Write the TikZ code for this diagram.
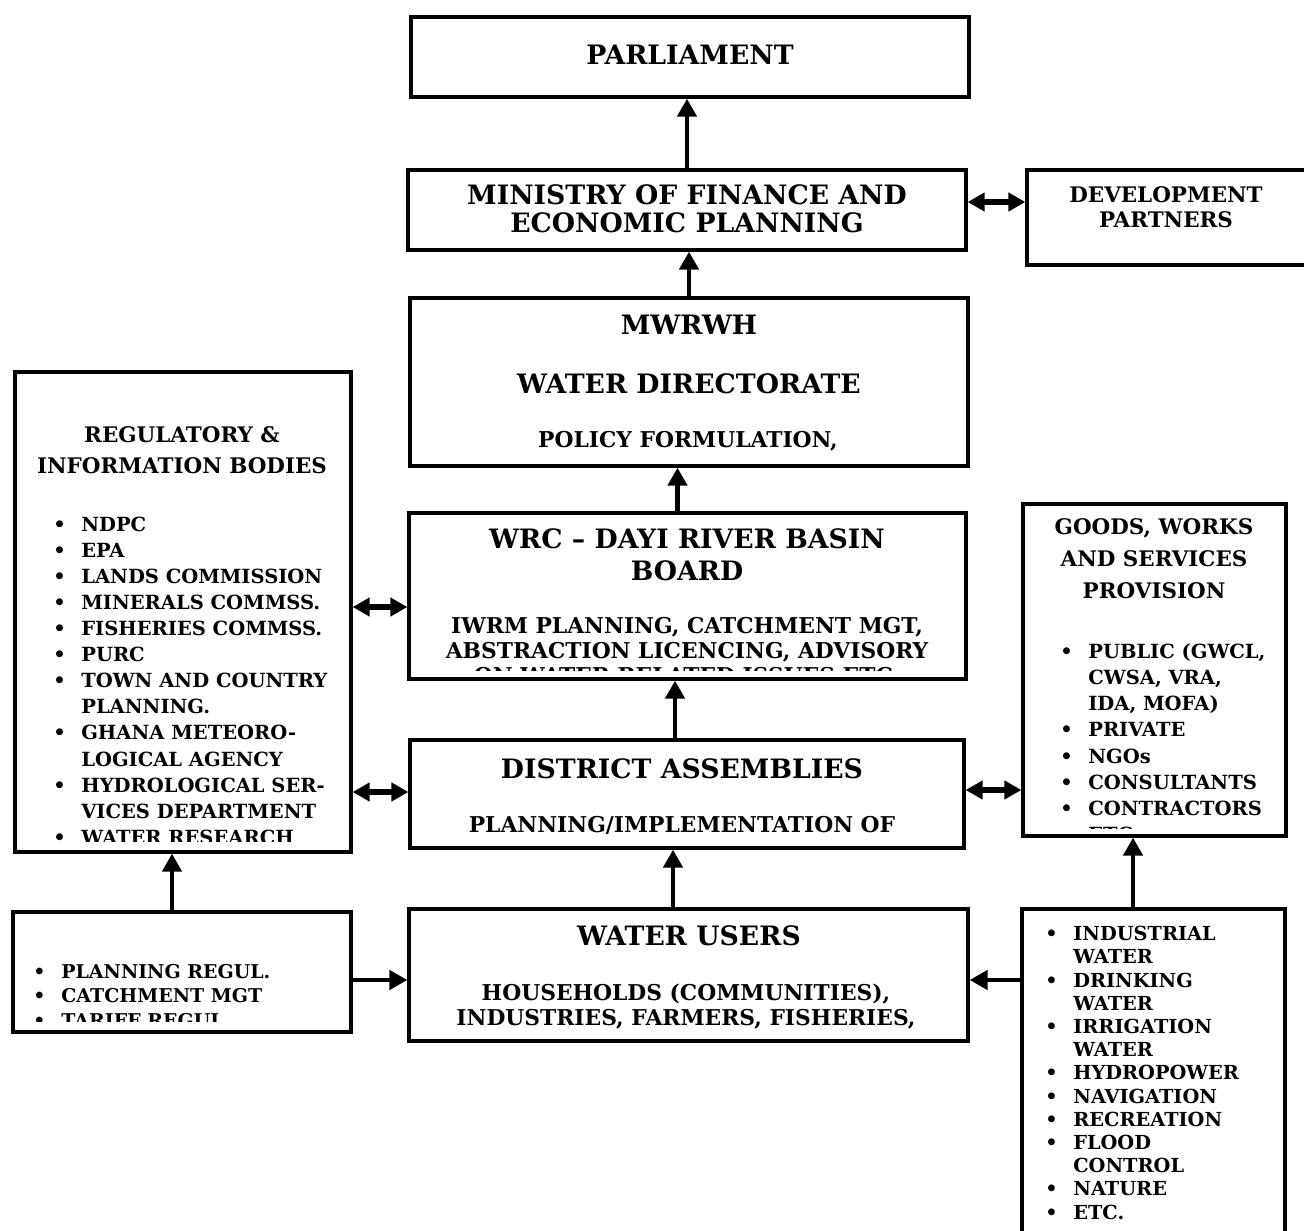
\documentclass[tikz,border=0pt]{standalone}
\usepackage{fontspec}
\setmainfont{DejaVu Serif}
\usepackage{tikz}
\usetikzlibrary{arrows.meta, positioning}
\newcommand{\bitem}[1]{\makebox[0.56cm][l]{•}#1}
\newcommand{\bcont}[1]{\hspace*{0.56cm}#1}

\begin{document}
\begin{tikzpicture}[x=0.02cm, y=-0.02cm,
    box/.style={draw, line width=1.9pt, inner sep=0pt},
    txt/.style={align=center, inner sep=0pt, anchor=base},
    lst/.style={align=left, inner sep=0pt, anchor=base west},
    ftitle/.style={font=\bfseries\fontsize{15.2}{15.9}\selectfont},
    fhead/.style={font=\bfseries\fontsize{12.2}{18}\selectfont},
    fsub/.style={font=\bfseries\fontsize{12.4}{14.2}\selectfont},
    flist/.style={font=\bfseries\fontsize{11.1}{14.8}\selectfont},
    fsmall/.style={font=\bfseries\fontsize{10.8}{13.9}\selectfont},
    fuse/.style={font=\bfseries\fontsize{11}{13.2}\selectfont},
    arr/.style={line width=2.8pt, -{Triangle[length=0.36cm, width=0.38cm]}},
    dbl/.style={line width=3pt, {Triangle[length=0.34cm, width=0.36cm]}-{Triangle[length=0.34cm, width=0.36cm]}}]
  \useasboundingbox (0,0) rectangle (1304,1230);
  % Boxes
  \node[box, minimum width=11.16cm, minimum height=1.6cm] (parl) at (690,57) {};
  \node[box, minimum width=11.16cm, minimum height=1.6cm] (mof) at (687,210) {};
  \node[box, minimum width=5.86cm, minimum height=1.9cm] (dp) at (1173.5,217.5) {};
  \node[box, minimum width=11.16cm, minimum height=3.36cm] (mwr) at (689,382) {};
  \node[box, minimum width=11.14cm, minimum height=3.32cm] (wrc) at (687.5,596) {};
  \node[box, minimum width=11.08cm, minimum height=2.16cm] (da) at (687,794) {};
  \node[box, minimum width=11.18cm, minimum height=2.64cm] (usr) at (688.5,975) {};
  \node[box, minimum width=6.72cm, minimum height=9.6cm] (reg) at (183,612) {};
  \node[box, minimum width=6.76cm, minimum height=2.4cm] (tool) at (182,972) {};
  \node[box, minimum width=5.26cm, minimum height=6.64cm] (gws) at (1154.5,670) {};
  \node[box, minimum width=5.26cm, minimum height=7.02cm] (use) at (1153.5,1084.5) {};
  % Texts (base = last line)
  \node[txt, ftitle] (parlT) at (690,65) {PARLIAMENT};
  \node[txt, ftitle] (mofT) at (687,232) {MINISTRY OF FINANCE AND\\ECONOMIC PLANNING};
  \node[txt, fhead] (dpT) at (1166,227) {DEVELOPMENT\\[-3.8pt]PARTNERS};
  \node[txt, ftitle] (mwrT) at (689,334) {MWRWH};
  \node[txt, ftitle] (wdT) at (689,393) {WATER DIRECTORATE};
  \node[txt, fsub] (polT) at (688,447) {POLICY FORMULATION,};
  \node[txt, ftitle] (wrcT) at (687,580) {WRC – DAYI RIVER BASIN\\[2.2pt]BOARD};
  \begin{scope}
    \clip (wrc.north west) rectangle ([yshift=0.2cm]wrc.south east);
    \node[txt, fsub] (wrcS) at (687,683) {IWRM PLANNING, CATCHMENT MGT,\\ABSTRACTION LICENCING, ADVISORY\\ON WATER RELATED ISSUES ETC.};
  \end{scope}
  \node[txt, ftitle] (daT) at (682,778) {DISTRICT ASSEMBLIES};
  \node[txt, fsub] (daS) at (682,832) {PLANNING/IMPLEMENTATION OF};
  \node[txt, ftitle] (usrT) at (689,945) {WATER USERS};
  \node[txt, fsub] (usrS) at (686,1025) {HOUSEHOLDS (COMMUNITIES),\\INDUSTRIES, FARMERS, FISHERIES,};
  \node[txt, fhead] (regT) at (182,473) {REGULATORY \&\\[-0.4pt]INFORMATION BODIES};
  \begin{scope}
    \clip (reg.north west) rectangle ([yshift=0.24cm]reg.south east);
    \node[lst, flist] (regL) at (53,844) {\bitem{NDPC}\\\bitem{EPA}\\\bitem{LANDS COMMISSION}\\
      \bitem{MINERALS COMMSS.}\\\bitem{FISHERIES COMMSS.}\\\bitem{PURC}\\
      \bitem{TOWN AND COUNTRY}\\\bcont{PLANNING.}\\\bitem{GHANA METEORO-}\\
      \bcont{LOGICAL AGENCY}\\\bitem{HYDROLOGICAL SER-}\\\bcont{VICES DEPARTMENT}\\
      \bitem{WATER RESEARCH}};
  \end{scope}
  \begin{scope}
    \clip (tool.north west) rectangle ([yshift=0.24cm]tool.south east);
    \node[lst, fsmall] (toolL) at (33,1027) {\bitem{PLANNING REGUL.}\\\bitem{CATCHMENT MGT}\\\bitem{TARIFF REGUL.}};
  \end{scope}
  \node[txt, fhead] (gwsT) at (1154,598) {GOODS, WORKS\\AND SERVICES\\PROVISION};
  \begin{scope}
    \clip (gws.north west) rectangle ([yshift=0.18cm]gws.south east);
    \node[lst, flist] (gwsL) at (1060,841) {\bitem{PUBLIC (GWCL,}\\\bcont{CWSA, VRA,}\\\bcont{IDA, MOFA)}\\
      \bitem{PRIVATE}\\\bitem{NGOs}\\\bitem{CONSULTANTS}\\\bitem{CONTRACTORS}\\\bitem{ETC.}};
  \end{scope}
  \node[lst, fuse] (useL) at (1045,1219) {\bitem{INDUSTRIAL}\\\bcont{WATER}\\\bitem{DRINKING}\\
    \bcont{WATER}\\\bitem{IRRIGATION}\\\bcont{WATER}\\\bitem{HYDROPOWER}\\
    \bitem{NAVIGATION}\\\bitem{RECREATION}\\\bitem{FLOOD}\\\bcont{CONTROL}\\
    \bitem{NATURE}\\\bitem{ETC.}};
  % Arrows
  \draw[arr] (mof.north) -- (mof.north |- parl.south);
  \draw[arr] (mwr.north) -- (mwr.north |- mof.south);
  \path ([xshift=-0.2cm]wrc.north) coordinate (c1);
  \draw[arr] (c1) -- (c1 |- mwr.south);
  \path ([xshift=-0.24cm]da.north) coordinate (c2);
  \draw[arr] (c2) -- (c2 |- wrc.south);
  \path ([xshift=-0.31cm]usr.north) coordinate (c3);
  \draw[arr] (c3) -- (c3 |- da.south);
  \path ([xshift=-0.2cm]tool.north) coordinate (c4);
  \draw[arr] (c4) -- (c4 |- reg.south);
  \path ([xshift=-0.41cm]use.north) coordinate (c5);
  \draw[arr] (c5) -- (c5 |- gws.south);
  \path ([yshift=-0.1cm]usr.west) coordinate (c6);
  \draw[arr] (c6 -| tool.east) -- (c6);
  \path ([yshift=-0.1cm]usr.east) coordinate (c7);
  \draw[arr] (c7 -| use.west) -- (c7);
  % Two-way links
  \path ([yshift=0.16cm]mof.east) coordinate (d1);
  \draw[dbl] (d1) -- (d1 -| dp.west);
  \path ([yshift=-0.22cm]wrc.west) coordinate (d2);
  \draw[dbl] (d2 -| reg.east) -- (d2);
  \path ([yshift=0.04cm]da.west) coordinate (d3);
  \draw[dbl] (d3 -| reg.east) -- (d3);
  \path ([yshift=0.08cm]da.east) coordinate (d4);
  \draw[dbl] (d4) -- (d4 -| gws.west);
\end{tikzpicture}
\end{document}
